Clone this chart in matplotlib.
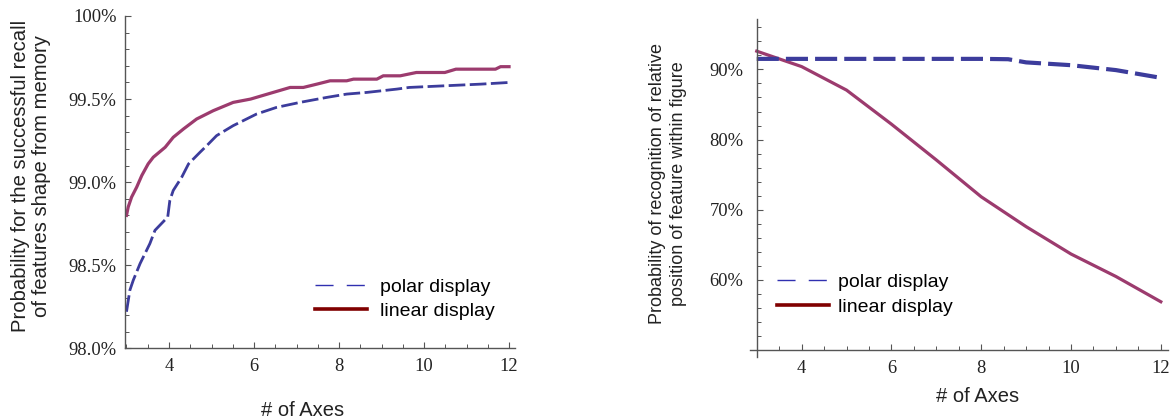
import matplotlib
matplotlib.use("Agg")
import matplotlib.pyplot as plt
from matplotlib.lines import Line2D
from matplotlib.ticker import MultipleLocator, FixedLocator

# left panel: recall of feature shape
recall_x_linear = [3.0, 3.04, 3.12, 3.24, 3.36, 3.51, 3.63, 3.91, 4.10, 4.34, 4.65, 5.04, 5.51, 5.92,
                   6.45, 6.85, 7.16, 7.48, 7.79, 8.18, 8.34, 8.89, 9.04, 9.44, 9.82, 10.49, 10.75,
                   11.68, 11.8, 12.0]
recall_linear = [98.80, 98.85, 98.91, 98.97, 99.04, 99.11, 99.15, 99.21, 99.27, 99.32, 99.38, 99.43,
                 99.48, 99.50, 99.54, 99.57, 99.57, 99.59, 99.61, 99.61, 99.62, 99.62, 99.64, 99.64,
                 99.66, 99.66, 99.68, 99.68, 99.695, 99.695]
recall_x_polar = [3.0, 3.08, 3.16, 3.32, 3.55, 3.67, 3.97, 4.02, 4.10, 4.30, 4.46, 4.73, 4.89, 5.12,
                  5.51, 6.06, 6.53, 7.08, 7.71, 8.18, 8.65, 9.36, 9.65, 10.49, 11.34, 12.0]
recall_polar = [98.22, 98.35, 98.41, 98.51, 98.63, 98.71, 98.79, 98.89, 98.95, 99.03, 99.11, 99.18,
                99.22, 99.28, 99.34, 99.41, 99.45, 99.48, 99.51, 99.53, 99.54, 99.56, 99.57, 99.58,
                99.59, 99.60]
recall_yticks = [98.0, 98.5, 99.0, 99.5, 100.0]
recall_ylabels = ["98.0%", "98.5%", "99.0%", "99.5%", "100%"]

# right panel: recognition of relative position
position_x_linear = [3, 4, 5, 6, 7, 8, 9, 10, 11, 12]
position_linear = [92.6, 90.4, 87.05, 82.2, 77.1, 71.85, 67.6, 63.7, 60.5, 56.9]
position_x_polar = [3, 4, 5, 6, 7, 8, 8.6, 9, 10, 11, 12]
position_polar = [91.5, 91.5, 91.5, 91.5, 91.5, 91.5, 91.45, 91.0, 90.6, 89.9, 88.8]
position_yticks = [60, 70, 80, 90]
position_ylabels = ["60%", "70%", "80%", "90%"]

x_ticks = [4, 6, 8, 10, 12]
legend_labels = ["polar display", "linear display"]

W, H = 1173, 420
RED = "#9c3b6e"
BLUE = "#3c3c9c"
AXC = "#555555"
SERIF = "Liberation Serif"
SANS = "Liberation Sans"


def style_axis(ax, ypad, xpad):
    for s in ["top", "right"]:
        ax.spines[s].set_visible(False)
    for s in ["left", "bottom"]:
        ax.spines[s].set_color(AXC)
        ax.spines[s].set_linewidth(1.0)
    ax.tick_params(which="major", direction="in", length=4.5, width=0.8, color=AXC)
    ax.tick_params(which="minor", direction="in", length=2.6, width=0.7, color=AXC)
    ax.tick_params(axis="y", pad=ypad)
    ax.tick_params(axis="x", pad=xpad)
    for lab in ax.get_xticklabels() + ax.get_yticklabels():
        lab.set_fontfamily(SERIF)
        lab.set_fontsize(13.3)
        lab.set_color("#222222")


def legend_handles():
    return [Line2D([], [], color="#3030b0", lw=1.0, dashes=(13, 9.5)),
            Line2D([], [], color="#800000", lw=2.6)]


fig = plt.figure(figsize=(W / 100, H / 100), dpi=100)

# ---- left
ax1 = fig.add_axes([125 / W, 1 - 348.3 / H, (515 - 125) / W, (348.3 - 16) / H])
ax1.plot(recall_x_linear, recall_linear, color=RED, lw=2.3, solid_joinstyle="round")
ax1.plot(recall_x_polar, recall_polar, color=BLUE, lw=2.0, dashes=(6, 1.6))
ax1.set_xlim(2.965, 12.14)
ax1.set_ylim(98.0, 100.0)
ax1.xaxis.set_major_locator(FixedLocator(x_ticks))
ax1.xaxis.set_minor_locator(MultipleLocator(0.5))
ax1.yaxis.set_major_locator(FixedLocator(recall_yticks))
ax1.yaxis.set_minor_locator(MultipleLocator(0.1))
ax1.set_yticklabels(recall_ylabels)
style_axis(ax1, 6, 7)
ax1.legend(legend_handles(), legend_labels, loc="center left", bbox_to_anchor=(315 / W, 1 - 299 / H),
           bbox_transform=fig.transFigure, frameon=False, borderpad=0, borderaxespad=0,
           handlelength=2.67, handletextpad=0.67, labelspacing=0.35,
           prop={"family": SANS, "size": 14})

# ---- right
ax2 = fig.add_axes([750 / W, 1 - 357 / H, (1168 - 750) / W, (357 - 19) / H])
ax2.plot(position_x_linear, position_linear, color=RED, lw=2.3)
ax2.plot(position_x_polar, position_polar, color=BLUE, lw=3.0, dashes=(5.3, 1.7))
ax2.set_xlim(2.85, 12.16)
ax2.set_ylim(49.03, 97.18)
ax2.spines["left"].set_position(("data", 3))
ax2.spines["bottom"].set_position(("data", 50))
ax2.xaxis.set_major_locator(FixedLocator(x_ticks))
ax2.xaxis.set_minor_locator(MultipleLocator(0.5))
ax2.yaxis.set_major_locator(FixedLocator(position_yticks))
ax2.yaxis.set_minor_locator(MultipleLocator(2))
ax2.set_yticklabels(position_ylabels)
style_axis(ax2, 9.5, 7)
ax2.legend(legend_handles(), legend_labels, loc="center left", bbox_to_anchor=(777 / W, 1 - 294.5 / H),
           bbox_transform=fig.transFigure, frameon=False, borderpad=0, borderaxespad=0,
           handlelength=2.67, handletextpad=0.46, labelspacing=0.35,
           prop={"family": SANS, "size": 14})

# axis titles
fig.text(31 / W, 1 - 176 / H, "Probability for the successful recall\nof features shape from memory",
         rotation=90, ha="center", va="center", multialignment="center",
         family=SANS, fontsize=14.6, color="#222222", linespacing=1.15)
fig.text(668 / W, 1 - 184 / H, "Probability of recognition of relative\nposition of feature within figure",
         rotation=90, ha="center", va="center", multialignment="center",
         family=SANS, fontsize=13, color="#222222", linespacing=1.25)
fig.text(302.5 / W, 1 - 410 / H, "# of Axes", ha="center", va="center",
         family=SANS, fontsize=14.5, color="#222222")
fig.text(978 / W, 1 - 396 / H, "# of Axes", ha="center", va="center",
         family=SANS, fontsize=14.5, color="#222222")

fig.savefig("out.png", dpi=100)
